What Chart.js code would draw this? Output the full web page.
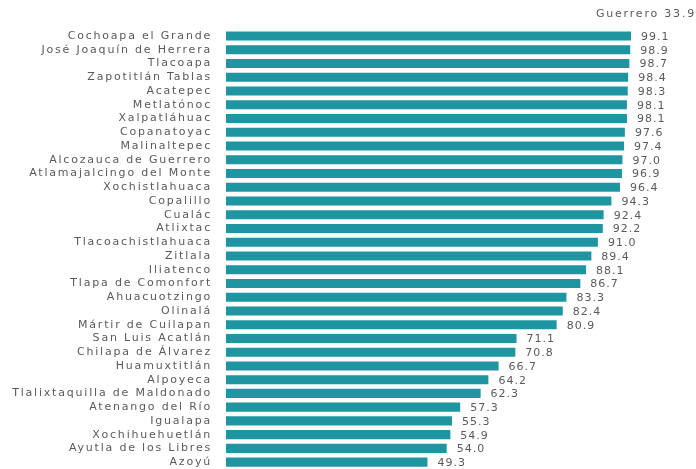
<!DOCTYPE html>
<html>
<head>
<meta charset="utf-8">
<script src="https://cdn.jsdelivr.net/npm/chart.js@4"></script>
<style>
  body { margin: 0; background: #fff; }
  #wrap { width: 696px; height: 469px; }
</style>
</head>
<body>
<div id="wrap"><canvas id="barChart"></canvas></div>
<script>
var municipios = ['Cochoapa el Grande', 'José Joaquín de Herrera', 'Tlacoapa', 'Zapotitlán Tablas', 'Acatepec',
    'Metlatónoc', 'Xalpatláhuac', 'Copanatoyac', 'Malinaltepec', 'Alcozauca de Guerrero',
    'Atlamajalcingo del Monte', 'Xochistlahuaca', 'Copalillo', 'Cualác', 'Atlixtac',
    'Tlacoachistlahuaca', 'Zitlala', 'Iliatenco', 'Tlapa de Comonfort', 'Ahuacuotzingo',
    'Olinalá', 'Mártir de Cuilapan', 'San Luis Acatlán', 'Chilapa de Álvarez', 'Huamuxtitlán',
    'Alpoyeca', 'Tlalixtaquilla de Maldonado', 'Atenango del Río', 'Igualapa', 'Xochihuehuetlán',
    'Ayutla de los Libres', 'Azoyú'];
var porcentajes = [99.1, 98.9, 98.7, 98.4, 98.3, 98.1, 98.1, 97.6, 97.4, 97.0,
    96.9, 96.4, 94.3, 92.4, 92.2, 91.0, 89.4, 88.1, 86.7, 83.3,
    82.4, 80.9, 71.1, 70.8, 66.7, 64.2, 62.3, 57.3, 55.3, 54.9,
    54.0, 49.3];
var tituloEstado = 'Guerrero 33.9';

var FONT = 'DejaVu Sans';

// texto espaciado como en la imagen original (que esta estirada)
var wideText = {
    id: 'wideText',
    beforeDraw: function(chart) {
        chart.ctx.letterSpacing = '1.8px';
    }
};

// etiquetas de valor a la derecha de cada barra
var valueLabels = {
    id: 'valueLabels',
    afterDatasetsDraw: function(chart) {
        var ctx = chart.ctx;
        var meta = chart.getDatasetMeta(0);
        ctx.save();
        ctx.letterSpacing = '1px';
        ctx.fillStyle = '#5a5a5a';
        ctx.font = '11px "' + FONT + '"';
        ctx.textAlign = 'left';
        ctx.textBaseline = 'middle';
        meta.data.forEach(function(bar, i) {
            ctx.fillText(porcentajes[i].toFixed(1), bar.x + 10, bar.y + 1);
        });
        ctx.restore();
    }
};

var ctx = document.getElementById('barChart').getContext('2d');
var myChart = new Chart(ctx, {
    type: 'bar',
    data: {
        labels: municipios,
        datasets: [{
            data: porcentajes,
            backgroundColor: '#1f95a2',
            borderWidth: 0,
            barPercentage: 0.66,
            categoryPercentage: 1
        }]
    },
    options: {
        indexAxis: 'y',
        responsive: true,
        maintainAspectRatio: false,
        animation: false,
        layout: { padding: 0 },
        plugins: {
            legend: { display: false },
            tooltip: { enabled: false },
            title: {
                display: true,
                text: tituloEstado,
                align: 'end',
                color: '#5a5a5a',
                font: { family: FONT, size: 11, weight: 'normal' },
                padding: { top: 8, bottom: 8 }
            }
        },
        scales: {
            x: {
                display: false,
                min: 0,
                max: 115
            },
            y: {
                afterFit: function(axis) {
                    axis.width = 226;
                    axis.paddingTop = 0;
                    axis.paddingBottom = 0;
                },
                grid: { display: false },
                border: { display: false },
                ticks: {
                    color: '#5a5a5a',
                    padding: 6,
                    autoSkip: false,
                    font: { family: FONT, size: 11 }
                }
            }
        }
    },
    plugins: [wideText, valueLabels]
});
</script>
</body>
</html>
